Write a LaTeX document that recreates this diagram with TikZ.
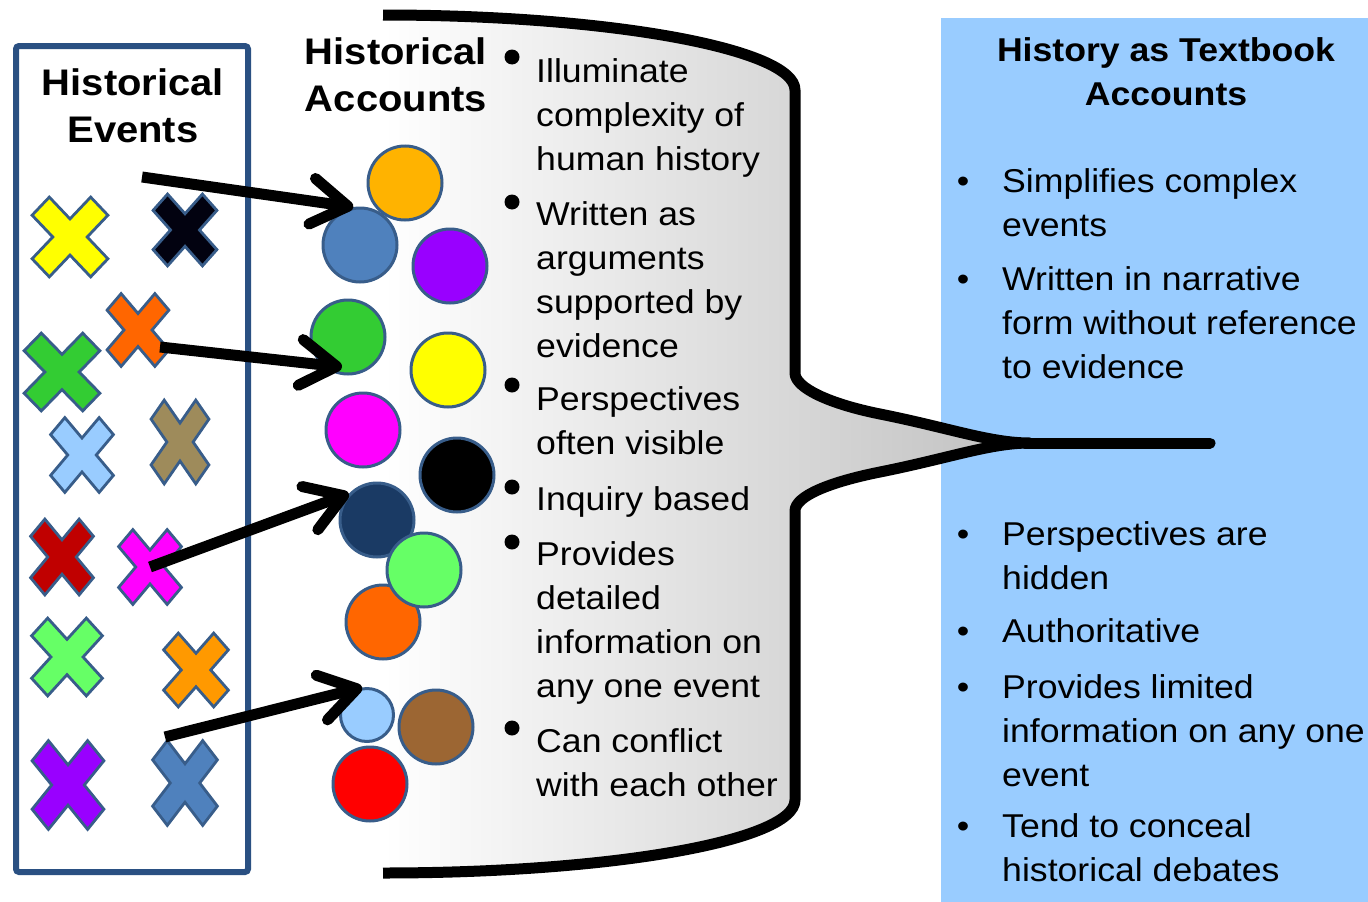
\documentclass[tikz,border=0pt]{standalone}
\usepackage{fontspec}
\setmainfont{Liberation Sans}[FakeStretch=1.08]
\usetikzlibrary{arrows.meta}
\definecolor{boxblue}{HTML}{2A5082}
\definecolor{shapeline}{HTML}{385D8A}
\definecolor{panelblue}{HTML}{99CCFF}
\definecolor{fungray}{RGB}{192,192,192}
\definecolor{cyellow}{HTML}{FFFF00}
\definecolor{cblack}{HTML}{020210}
\definecolor{corange}{HTML}{FF6600}
\definecolor{cgreen}{HTML}{33CC33}
\definecolor{clblue}{HTML}{99CCFF}
\definecolor{ckhaki}{HTML}{9E8B5B}
\definecolor{cdred}{HTML}{C00000}
\definecolor{cmagenta}{HTML}{FF00FF}
\definecolor{clgreen}{HTML}{66FF66}
\definecolor{corange2}{HTML}{FF9900}
\definecolor{cpurple}{HTML}{9900FF}
\definecolor{csteel}{HTML}{4F81BD}
\definecolor{cgold}{HTML}{FFB300}
\definecolor{cnavy}{HTML}{1A3A64}
\definecolor{cbrown}{HTML}{9C6633}
\definecolor{cred}{HTML}{FF0000}
\tikzset{
  xline/.style={draw=shapeline, line width=2.8, line join=miter},
  pics/xmark/.style n args={3}{code={
    \draw[xline, fill=#1, xscale=#2/2, yscale=#3/2, rotate=45]
      (0.32,1.09) -- (0.32,0.32) -- (1.09,0.32) -- (1.09,-0.32) -- (0.32,-0.32)
      -- (0.32,-1.09) -- (-0.32,-1.09) -- (-0.32,-0.32) -- (-1.09,-0.32)
      -- (-1.09,0.32) -- (-0.32,0.32) -- (-0.32,1.09) -- cycle;
  }},
  ball/.style={circle, draw=shapeline, line width=3, inner sep=0, minimum size=74},
  conn/.style={line width=11, line cap=butt, -{Straight Barb[round, length=36pt, width=46pt]}},
  bigdot/.style={circle, fill=black, inner sep=0, minimum size=15},
  bodytxt/.style={font=\fontsize{33}{44}\selectfont, inner sep=0, anchor=base west, align=left},
  rdot/.style={font=\fontsize{33}{44}\selectfont, inner sep=0, anchor=base},
  hdrtxt/.style={font=\fontsize{37}{47}\selectfont\bfseries, inner sep=0, anchor=base, align=center},
  rhdrtxt/.style={font=\fontsize{33}{44}\selectfont\bfseries, inner sep=0, anchor=base, align=center},
  brace/.style={line width=11, line cap=butt, line join=round},
}
\begin{document}
\begin{tikzpicture}[x=1pt, y=-1pt]
\useasboundingbox (0,0) rectangle (1368,902);

% right panel
\fill[panelblue] (941,18) rectangle (1368,902);

% funnel (brace) with gradient
\def\funnelpath{(383,15) .. controls (610,15) and (795,49) .. (795,90)
  -- (795,373) .. controls (795,388) and (830,404) .. (880,414)
  .. controls (950,428) and (990,443) .. (1030,443)
  .. controls (990,443) and (950,458) .. (880,472)
  .. controls (830,482) and (795,496) .. (795,511)
  -- (795,800) .. controls (795,841) and (610,873) .. (383,873)}
\shade[left color=white, right color=fungray] \funnelpath -- cycle;
\draw[brace] \funnelpath;
\draw[line width=11, line cap=round] (1025,443) -- (1210,443);

% left box
\draw[boxblue, line width=6, rounded corners=3] (16,46) rectangle (248,872);

% X marks (events)
\coordinate (xyellow) at (70,237);
\coordinate (xblack) at (185,230);
\coordinate (xorange) at (138,330);
\coordinate (xgreen) at (62,372);
\coordinate (xlblue) at (82,455);
\coordinate (xkhaki) at (180,442);
\coordinate (xdred) at (62,557);
\coordinate (xmagenta) at (150,567);
\coordinate (xlgreen) at (67,657);
\coordinate (xorange2) at (196,670);
\coordinate (xpurple) at (68,785);
\coordinate (xsteel) at (185,783);
\pic at (xyellow) {xmark={cyellow}{76}{80}};
\pic at (xblack) {xmark={cblack}{64}{72}};
\pic at (xgreen) {xmark={cgreen}{76}{78}};
\pic at (xorange) {xmark={corange}{62}{73}};
\pic at (xlblue) {xmark={clblue}{63}{75}};
\pic at (xkhaki) {xmark={ckhaki}{58}{84}};
\pic at (xdred) {xmark={cdred}{63}{76}};
\pic at (xmagenta) {xmark={cmagenta}{63}{75}};
\pic at (xlgreen) {xmark={clgreen}{71}{78}};
\pic at (xorange2) {xmark={corange2}{65}{74}};
\pic at (xpurple) {xmark={cpurple}{72}{89}};
\pic at (xsteel) {xmark={csteel}{65}{85}};

% circles (accounts)
\node[ball, fill=cgold] (c1) at (405,183) {};
\node[ball, fill=csteel] (c2) at (360,245) {};
\node[ball, fill=cpurple] (c3) at (450,266) {};
\node[ball, fill=cgreen] (c4) at (348,337) {};
\node[ball, fill=cyellow] (c5) at (448,370) {};
\node[ball, fill=cmagenta] (c6) at (363,430) {};
\node[ball, fill=black] (c7) at (457,475) {};
\node[ball, fill=cnavy] (c8) at (377,520) {};
\node[ball, fill=corange] (c10) at (383,622) {};
\node[ball, fill=clgreen] (c9) at (424,570) {};
\node[ball, fill=clblue, minimum size=53] (c11) at (367,715) {};
\node[ball, fill=cbrown] (c12) at (436,727) {};
\node[ball, fill=cred] (c13) at (370,784) {};

% arrows
\coordinate (a1s) at (142,177);
\coordinate (a2s) at (160,347);
\coordinate (a2t) at (342,367);
\coordinate (a4s) at (165,737);
\draw[conn] (a1s) -- (c2.100);
\draw[conn] (a2s) -- (a2t);
\draw[conn] (xmagenta) -- (c8.137);
\draw[conn] (a4s) -- (c11.100);

% headers (anchor base = last line)
\node[hdrtxt] (hev) at (133,142) {Historical\\Events};
\node[hdrtxt] (hac) at (396,111) {Historical\\Accounts};
\node[rhdrtxt] (htb) at (1166,105) {History as Textbook\\Accounts};

% middle bullets
\node[bigdot] (d1) at (512,57) {};
\node[bigdot] (d2) at (512,202) {};
\node[bigdot] (d3) at (512,385) {};
\node[bigdot] (d4) at (512,487) {};
\node[bigdot] (d5) at (512,542) {};
\node[bigdot] (d6) at (512,728) {};
\node[bodytxt] (m1) at (536,170) {Illuminate\\complexity of\\human history};
\node[bodytxt] (m2) at (536,357) {Written as\\arguments\\supported by\\evidence};
\node[bodytxt] (m3) at (536,454) {Perspectives\\often visible};
\node[bodytxt] (m4) at (536,510) {Inquiry based};
\node[bodytxt] (m5) at (536,697) {Provides\\detailed\\information on\\any one event};
\node[bodytxt] (m6) at (536,796) {Can conflict\\with each other};

% right bullets
\node[rdot] (r1d) at (963,192) {•};
\node[rdot] (r2d) at (963,290) {•};
\node[rdot] (r3d) at (963,545) {•};
\node[rdot] (r4d) at (963,642) {•};
\node[rdot] (r5d) at (963,698) {•};
\node[rdot] (r6d) at (963,837) {•};
\node[bodytxt] (r1) at (1002,236) {Simplifies complex\\events};
\node[bodytxt] (r2) at (1002,378) {Written in narrative\\form without reference\\to evidence};
\node[bodytxt] (r3) at (1002,589) {Perspectives are\\hidden};
\node[bodytxt] (r4) at (1002,642) {Authoritative};
\node[bodytxt] (r5) at (1002,786) {Provides limited\\information on any one\\event};
\node[bodytxt] (r6) at (1002,881) {Tend to conceal\\historical debates};
\end{tikzpicture}
\end{document}
